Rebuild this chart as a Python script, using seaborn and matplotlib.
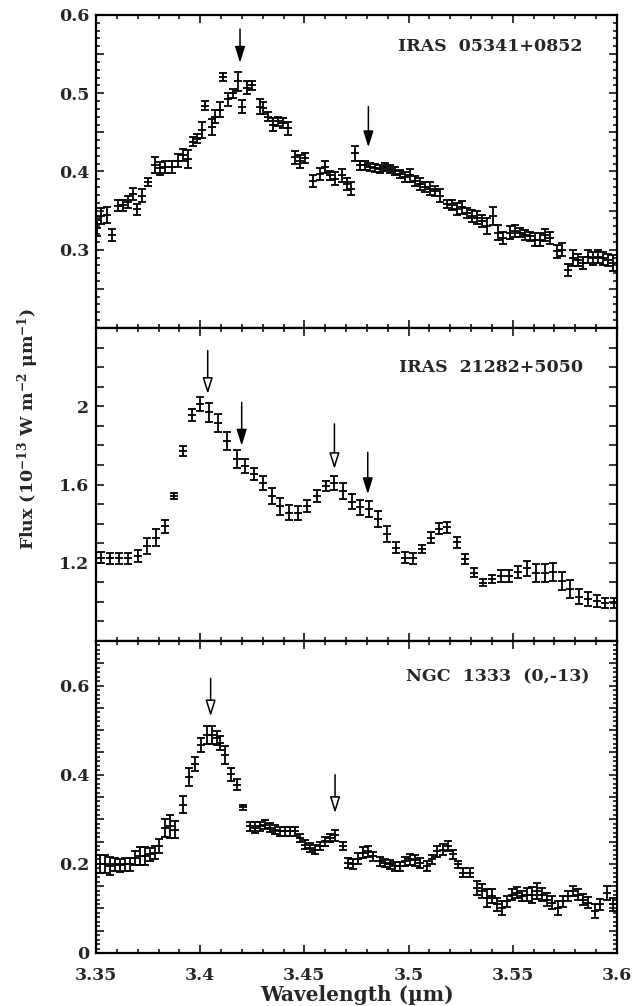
import numpy as np
import pandas as pd
import matplotlib
matplotlib.use("Agg")
import matplotlib.pyplot as plt
import seaborn as sns
from matplotlib.ticker import MultipleLocator, FuncFormatter

# ---------------- data ----------------
wl1 = [3.3506, 3.3522, 3.3551, 3.3575, 3.3607, 3.3631, 3.3655, 3.3679, 3.3695, 3.3719,
       3.3751, 3.3783, 3.3807, 3.3831, 3.3863, 3.3895, 3.3919, 3.3943, 3.3967, 3.3983,
       3.4007, 3.4023, 3.4055, 3.4071, 3.4095, 3.4111, 3.4135, 3.4159, 3.4183, 3.4199,
       3.4223, 3.4247, 3.4287, 3.4303, 3.4327, 3.4351, 3.4375, 3.4399, 3.4423, 3.4455,
       3.4479, 3.4503, 3.4543, 3.4575, 3.4599, 3.4623, 3.4647, 3.4679, 3.4703, 3.4722,
       3.4743, 3.4767, 3.4791, 3.4815, 3.4839, 3.4863, 3.4887, 3.4911, 3.4935, 3.4959,
       3.4983, 3.5007, 3.5031, 3.5055, 3.5079, 3.5103, 3.5127, 3.5151, 3.5183, 3.5207,
       3.5231, 3.5255, 3.5279, 3.5303, 3.5327, 3.5351, 3.5375, 3.5407, 3.5431, 3.5455,
       3.5487, 3.5511, 3.5535, 3.5559, 3.5583, 3.5607, 3.5631, 3.5655, 3.5679, 3.5711,
       3.5735, 3.5767, 3.5791, 3.5815, 3.5839, 3.5863, 3.5887, 3.5911, 3.5935, 3.5959,
       3.5983]
flux1 = [0.328, 0.343, 0.344, 0.319, 0.356, 0.357, 0.361, 0.371, 0.352, 0.369,
         0.387, 0.408, 0.404, 0.406, 0.406, 0.414, 0.421, 0.416, 0.438, 0.442,
         0.453, 0.484, 0.457, 0.470, 0.479, 0.521, 0.492, 0.500, 0.515, 0.483,
         0.507, 0.510, 0.483, 0.481, 0.470, 0.460, 0.464, 0.462, 0.455, 0.418,
         0.413, 0.417, 0.388, 0.397, 0.406, 0.395, 0.391, 0.395, 0.384, 0.378,
         0.423, 0.408, 0.408, 0.406, 0.404, 0.403, 0.406, 0.403, 0.401, 0.397,
         0.393, 0.395, 0.388, 0.384, 0.380, 0.378, 0.375, 0.369, 0.358, 0.357,
         0.352, 0.354, 0.347, 0.343, 0.341, 0.337, 0.330, 0.343, 0.322, 0.315,
         0.322, 0.324, 0.322, 0.319, 0.317, 0.313, 0.313, 0.319, 0.315, 0.298,
         0.300, 0.274, 0.289, 0.287, 0.283, 0.291, 0.289, 0.291, 0.289, 0.287,
         0.283]
err1 = [0.010, 0.010, 0.010, 0.008, 0.007, 0.007, 0.008, 0.008, 0.007, 0.008,
        0.005, 0.010, 0.008, 0.008, 0.008, 0.008, 0.008, 0.012, 0.006, 0.006,
        0.010, 0.006, 0.010, 0.008, 0.010, 0.005, 0.008, 0.006, 0.012, 0.008,
        0.008, 0.006, 0.010, 0.008, 0.006, 0.008, 0.006, 0.006, 0.008, 0.008,
        0.008, 0.006, 0.008, 0.008, 0.008, 0.006, 0.008, 0.008, 0.008, 0.008,
        0.010, 0.006, 0.006, 0.005, 0.005, 0.005, 0.005, 0.005, 0.005, 0.005,
        0.006, 0.008, 0.006, 0.008, 0.006, 0.008, 0.006, 0.008, 0.005, 0.006,
        0.008, 0.008, 0.006, 0.008, 0.008, 0.008, 0.010, 0.012, 0.010, 0.008,
        0.008, 0.008, 0.006, 0.006, 0.006, 0.008, 0.008, 0.008, 0.008, 0.008,
        0.008, 0.008, 0.010, 0.008, 0.008, 0.008, 0.008, 0.008, 0.008, 0.008,
        0.010]

wl2 = [3.3522, 3.3567, 3.3612, 3.3655, 3.3700, 3.3743, 3.3788, 3.3831, 3.3874, 3.3916,
       3.3959, 3.3999, 3.4044, 3.4087, 3.4130, 3.4175, 3.4215, 3.4258, 3.4300, 3.4343,
       3.4383, 3.4428, 3.4471, 3.4514, 3.4559, 3.4602, 3.4642, 3.4684, 3.4727, 3.4767,
       3.4810, 3.4855, 3.4895, 3.4940, 3.4981, 3.5023, 3.5063, 3.5106, 3.5147, 3.5186,
       3.5231, 3.5271, 3.5314, 3.5355, 3.5399, 3.5442, 3.5483, 3.5527, 3.5570, 3.5611,
       3.5655, 3.5694, 3.5734, 3.5774, 3.5819, 3.5862, 3.5902, 3.5942, 3.5986]
flux2 = [1.227, 1.222, 1.222, 1.222, 1.235, 1.287, 1.329, 1.386, 1.543, 1.773,
         1.956, 2.012, 1.969, 1.915, 1.824, 1.730, 1.696, 1.654, 1.608, 1.543,
         1.488, 1.457, 1.454, 1.491, 1.543, 1.594, 1.608, 1.567, 1.513, 1.483,
         1.474, 1.423, 1.346, 1.278, 1.227, 1.222, 1.270, 1.329, 1.375, 1.381,
         1.304, 1.218, 1.150, 1.099, 1.116, 1.133, 1.133, 1.154, 1.171, 1.147,
         1.147, 1.154, 1.108, 1.065, 1.027, 1.014, 1.005, 0.995, 0.993]
err2 = [0.030, 0.030, 0.030, 0.030, 0.030, 0.040, 0.045, 0.035, 0.015, 0.025,
        0.030, 0.035, 0.050, 0.045, 0.045, 0.045, 0.035, 0.030, 0.035, 0.040,
        0.045, 0.040, 0.035, 0.030, 0.030, 0.025, 0.035, 0.040, 0.040, 0.040,
        0.040, 0.040, 0.040, 0.030, 0.030, 0.030, 0.020, 0.030, 0.030, 0.030,
        0.030, 0.025, 0.025, 0.020, 0.020, 0.030, 0.030, 0.030, 0.040, 0.045,
        0.045, 0.045, 0.045, 0.045, 0.040, 0.035, 0.030, 0.025, 0.025]

wl3 = [3.3519, 3.3543, 3.3567, 3.3591, 3.3615, 3.3639, 3.3663, 3.3687, 3.3711, 3.3735,
       3.3759, 3.3783, 3.3804, 3.3831, 3.3855, 3.3879, 3.3919, 3.3948, 3.3975, 3.4002,
       3.4031, 3.4055, 3.4079, 3.4095, 3.4119, 3.4146, 3.4175, 3.4204, 3.4239, 3.4263,
       3.4287, 3.4311, 3.4335, 3.4359, 3.4383, 3.4407, 3.4431, 3.4455, 3.4479, 3.4503,
       3.4527, 3.4551, 3.4575, 3.4599, 3.4623, 3.4647, 3.4687, 3.4711, 3.4735, 3.4759,
       3.4783, 3.4807, 3.4831, 3.4863, 3.4887, 3.4911, 3.4935, 3.4959, 3.4983, 3.5007,
       3.5031, 3.5055, 3.5087, 3.5111, 3.5135, 3.5167, 3.5191, 3.5215, 3.5239, 3.5263,
       3.5295, 3.5327, 3.5351, 3.5375, 3.5399, 3.5423, 3.5447, 3.5471, 3.5495, 3.5519,
       3.5543, 3.5567, 3.5591, 3.5615, 3.5639, 3.5663, 3.5687, 3.5719, 3.5743, 3.5767,
       3.5791, 3.5815, 3.5839, 3.5863, 3.5895, 3.5919, 3.5951, 3.5983]
flux3 = [0.199, 0.199, 0.195, 0.199, 0.197, 0.199, 0.199, 0.213, 0.217, 0.217,
         0.221, 0.225, 0.240, 0.281, 0.284, 0.277, 0.333, 0.394, 0.424, 0.467,
         0.490, 0.490, 0.482, 0.471, 0.445, 0.401, 0.378, 0.327, 0.284, 0.281,
         0.284, 0.288, 0.281, 0.277, 0.273, 0.273, 0.273, 0.273, 0.258, 0.243,
         0.236, 0.232, 0.240, 0.251, 0.258, 0.264, 0.240, 0.202, 0.200, 0.212,
         0.225, 0.228, 0.217, 0.206, 0.202, 0.199, 0.195, 0.195, 0.206, 0.210,
         0.208, 0.202, 0.195, 0.210, 0.228, 0.232, 0.240, 0.221, 0.199, 0.180,
         0.180, 0.146, 0.139, 0.124, 0.128, 0.109, 0.101, 0.116, 0.131, 0.135,
         0.128, 0.131, 0.131, 0.139, 0.131, 0.120, 0.113, 0.101, 0.116, 0.128,
         0.139, 0.131, 0.120, 0.113, 0.094, 0.109, 0.135, 0.109]
err3 = [0.020, 0.020, 0.020, 0.015, 0.015, 0.015, 0.015, 0.015, 0.020, 0.020,
        0.015, 0.015, 0.015, 0.020, 0.025, 0.020, 0.020, 0.020, 0.015, 0.015,
        0.020, 0.020, 0.015, 0.015, 0.020, 0.015, 0.012, 0.006, 0.010, 0.012,
        0.010, 0.010, 0.010, 0.010, 0.010, 0.010, 0.010, 0.010, 0.010, 0.010,
        0.010, 0.010, 0.010, 0.010, 0.010, 0.012, 0.010, 0.012, 0.012, 0.012,
        0.012, 0.012, 0.010, 0.010, 0.010, 0.010, 0.010, 0.010, 0.010, 0.012,
        0.012, 0.012, 0.012, 0.010, 0.012, 0.012, 0.012, 0.010, 0.008, 0.010,
        0.010, 0.015, 0.015, 0.020, 0.015, 0.015, 0.015, 0.012, 0.012, 0.012,
        0.012, 0.015, 0.018, 0.018, 0.015, 0.015, 0.015, 0.015, 0.012, 0.012,
        0.012, 0.012, 0.012, 0.012, 0.015, 0.012, 0.015, 0.015]

names = ["IRAS  05341+0852", "IRAS  21282+5050", "NGC  1333  (0,-13)"]
name_pos = [(0.933, 0.898), (0.935, 0.875), (0.948, 0.885)]

# arrows: (wavelength, tail, tip, filled)
arrows1 = [(3.4191, 0.582, 0.539, True), (3.4807, 0.483, 0.431, True)]
arrows2 = [(3.4036, 2.285, 2.063, False), (3.4199, 2.020, 1.799, True),
           (3.4644, 1.910, 1.679, False), (3.4804, 1.765, 1.551, True)]
arrows3 = [(3.4050, 0.616, 0.531, False), (3.4647, 0.400, 0.314, False)]

# ---------------- style ----------------
sns.set_style("ticks")
plt.rcParams["font.family"] = ["DejaVu Serif"]
plt.rcParams["font.weight"] = "bold"
plt.rcParams["mathtext.fontset"] = "dejavuserif"
plt.rcParams["mathtext.default"] = "bf"

fig = plt.figure(figsize=(6.38, 10.06), dpi=100)
L, W = 0.1505, 0.8166
ax1 = fig.add_axes([L, 0.674, W, 0.3111])
ax2 = fig.add_axes([L, 0.3628, W, 0.3111])
ax3 = fig.add_axes([L, 0.0527, W, 0.3101])

panels = [
    (ax1, wl1, flux1, err1, (0.2, 0.6), 0.05, 0.01, [0.3, 0.4, 0.5, 0.6], arrows1),
    (ax2, wl2, flux2, err2, (0.8, 2.4), 0.1, None, [1.2, 1.6, 2.0], arrows2),
    (ax3, wl3, flux3, err3, (0.0, 0.7), 0.05, 0.01, [0.0, 0.2, 0.4, 0.6], arrows3),
]

def fmt_label(v):
    s = f"{v:.1f}"
    if s.endswith(".0"):
        s = s[:-2]
    return s

for i, (ax, wl, fl, er, ylim, ymaj, ymin, ylabs, arrs) in enumerate(panels):
    df = pd.DataFrame({"wl": wl, "flux": fl, "err": er})
    ax.errorbar(df["wl"], df["flux"], yerr=df["err"], fmt="none", ecolor="black",
                elinewidth=1.3, capsize=2.6, capthick=1.3)
    sns.scatterplot(data=df, x="wl", y="flux", ax=ax, marker="_", s=40,
                    color="black", linewidth=1.3, legend=False, zorder=3)
    for (x, tail, tip, filled) in arrs:
        ax.annotate("", xy=(x, tip), xytext=(x, tail),
                    arrowprops=dict(arrowstyle="-|>,head_length=0.7,head_width=0.22",
                                    lw=1.1, facecolor="black" if filled else "white",
                                    edgecolor="black", mutation_scale=14,
                                    shrinkA=0, shrinkB=0))
    ax.set_xlim(3.35, 3.6)
    ax.set_ylim(*ylim)
    ax.xaxis.set_major_locator(MultipleLocator(0.05))
    ax.xaxis.set_minor_locator(MultipleLocator(0.01))
    ax.yaxis.set_major_locator(MultipleLocator(ymaj))
    if ymin:
        ax.yaxis.set_minor_locator(MultipleLocator(ymin))
    ax.yaxis.set_major_formatter(FuncFormatter(
        lambda v, p, labs=ylabs: fmt_label(v) if any(abs(v - l) < 1e-6 for l in labs) else ""))
    ax.tick_params(which="both", direction="in", top=True, right=True,
                   width=1.3, labelsize=12.5)
    ax.tick_params(axis="y", pad=5)
    ax.tick_params(axis="x", pad=10)
    ax.tick_params(which="major", length=6)
    ax.tick_params(which="minor", length=3)
    for sp in ax.spines.values():
        sp.set_linewidth(1.6)
        sp.set_color("black")
    ax.set_xlabel("")
    ax.set_ylabel("")
    nx, ny = name_pos[i]
    ax.text(nx, ny, names[i], transform=ax.transAxes, ha="right", va="center",
            fontsize=12.5, fontweight="bold")
    if i < 2:
        ax.tick_params(axis="x", labelbottom=False)

ax3.xaxis.set_major_formatter(FuncFormatter(lambda v, p: f"{v:.2f}".rstrip("0")))
ax3.set_xlabel("Wavelength (µm)", fontsize=14.5, fontweight="bold", labelpad=1)
fig.text(0.044, 0.574, r"Flux (10$^{-13}$ W m$^{-2}$ $\mu$m$^{-1}$)", rotation=90,
         ha="center", va="center", fontsize=12.5, fontweight="bold")

fig.savefig("out.png", dpi=100)
